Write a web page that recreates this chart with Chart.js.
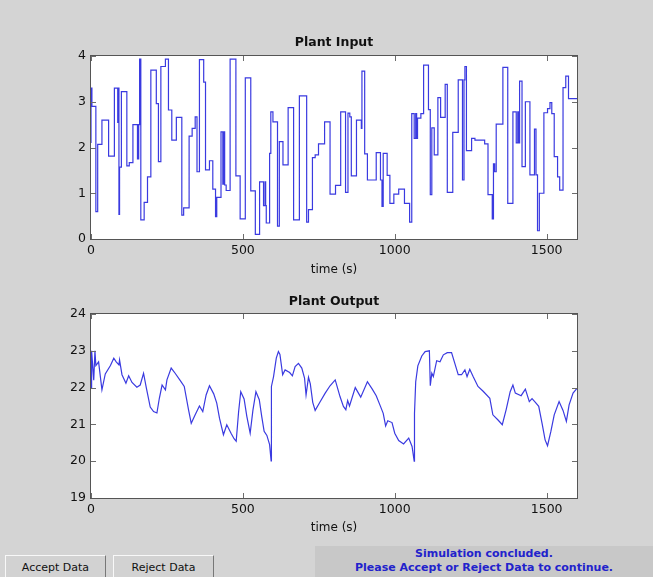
<!DOCTYPE html>
<html lang="en">
<head>
    <meta charset="UTF-8">
    <title>Plant Input / Plant Output</title>
    <script src="https://cdn.jsdelivr.net/npm/chart.js"></script>
    <style>
        body { margin: 0; background: #d4d4d4; font-family: "DejaVu Sans", sans-serif; }
        .fig { position: relative; width: 653px; height: 577px; overflow: hidden; background: #d4d4d4; }
        canvas { position: absolute; left: 0; }
        .btn {
            position: absolute; top: 555px; height: 24px; width: 101px;
            background: #d2d2d2; border-top: 1px solid #f8f8f8; border-left: 1px solid #f8f8f8;
            border-right: 1px solid #777; box-sizing: border-box;
            font-size: 11px; color: #111; text-align: center; line-height: 24px;
        }
        .status {
            position: absolute; left: 315px; top: 546px; width: 338px; height: 31px;
            background: #c8c8c8; color: #2222cc; font-weight: bold; font-size: 11px;
            text-align: center; line-height: 14px; padding-top: 1px; box-sizing: border-box;
        }
    </style>
</head>
<body>
<div class="fig">
    <canvas id="inputChart" width="653" height="285" style="top:0"></canvas>
    <canvas id="outputChart" width="653" height="255" style="top:285px"></canvas>
    <div class="btn" style="left:5px">Accept Data</div>
    <div class="btn" style="left:113px">Reject Data</div>
    <div class="status">Simulation concluded.<br>Please Accept or Reject Data to continue.</div>
</div>

<script>
    // time axis ticks (s)
    const timeTicks = [0, 500, 1000, 1500];
    const inputTicks = [0, 1, 2, 3, 4];
    const outputTicks = [19, 20, 21, 22, 23, 24];

    // plant input, held constant from each time to the next
    const inputTimes = [0, 3, 16, 22, 36, 58, 77, 88, 91, 92, 94, 100, 118, 126, 138, 153, 157, 160, 164, 175,
        186, 197, 215, 222, 230, 245, 255, 266, 281, 299, 305, 323, 333, 343, 349, 357, 371, 377, 390, 401,
        410, 414, 428, 434, 438, 440, 445, 458, 477, 491, 508, 526, 541, 555, 568, 573, 575, 577, 588, 592,
        599, 614, 620, 632, 649, 667, 686, 710, 716, 729, 738, 749, 769, 787, 805, 822, 838, 846, 852, 857,
        874, 890, 892, 901, 910, 939, 953, 958, 962, 975, 984, 997, 1013, 1032, 1049, 1056, 1064, 1069, 1072, 1075,
        1086, 1095, 1111, 1117, 1122, 1130, 1142, 1151, 1166, 1173, 1191, 1209, 1223, 1228, 1231, 1236, 1253, 1264, 1296, 1307,
        1321, 1325, 1329, 1334, 1356, 1372, 1389, 1400, 1405, 1408, 1411, 1419, 1430, 1445, 1460, 1465, 1470, 1476, 1491, 1503,
        1511, 1517, 1525, 1536, 1543, 1554, 1563, 1572, 1587, 1600];
    const inputValues = [2.1, 3.3, 2.9, 0.6, 2.07, 2.6, 1.81, 3.3, 2.55, 3.3, 0.54, 1.57, 3.22, 1.6, 1.67, 2.5, 1.75, 2.5, 3.93, 0.42,
        0.8, 1.36, 3.69, 2.96, 1.69, 3.77, 3.93, 2.82, 2.16, 2.66, 0.52, 0.68, 2.25, 2.42, 2.67, 1.47, 3.92, 3.43, 1.51, 1.71,
        1.09, 0.49, 0.91, 2.34, 1.2, 2.34, 1.18, 1.06, 3.93, 1.38, 0.44, 3.52, 1.05, 0.1, 1.25, 0.73, 1.25, 0.73, 0.35, 1.87,
        2.78, 2.56, 0.28, 2.13, 1.62, 2.87, 0.42, 3.13, 0.37, 0.64, 1.78, 1.84, 2.08, 2.56, 0.98, 1.17, 2.78, 1.02, 2.75, 2.67,
        1.38, 2.6, 2.42, 3.67, 1.86, 1.29, 1.89, 1.29, 0.71, 1.87, 1.39, 0.78, 0.98, 1.09, 0.78, 0.37, 2.74, 2.2, 2.74, 2.2,
        2.64, 2.74, 3.8, 2.83, 0.97, 2.43, 1.84, 3.09, 2.66, 3.38, 1.02, 2.33, 3.48, 1.29, 3.48, 3.77, 1.93, 2.2, 2.16, 2.08,
        0.97, 0.44, 1.64, 1.47, 2.51, 3.75, 0.78, 2.78, 2.1, 2.78, 2.1, 3.45, 1.58, 3.0, 1.4, 2.4, 1.4, 0.18, 1.0, 2.76,
        2.85, 2.98, 2.74, 1.8, 1.36, 1.07, 3.31, 3.56, 3.07, 3.07];

    // plant output
    const outputTimes = [0, 2, 9, 13, 16, 25, 36, 47, 64, 75, 83, 92, 94, 102, 115, 124, 135, 151, 162, 173,
        182, 195, 206, 217, 225, 234, 245, 250, 264, 277, 294, 307, 321, 330, 343, 357, 368, 379, 390, 404,
        414, 423, 436, 447, 461, 471, 478, 486, 493, 504, 513, 524, 533, 543, 554, 562, 570, 579, 588, 593,
        594, 601, 610, 617, 622, 631, 639, 654, 663, 672, 683, 694, 703, 708, 716, 722, 730, 738, 752, 771,
        787, 804, 820, 831, 839, 845, 851, 870, 888, 910, 926, 939, 953, 962, 970, 977, 991, 1000, 1013, 1029,
        1046, 1057, 1064, 1065, 1069, 1076, 1089, 1100, 1114, 1117, 1122, 1127, 1138, 1149, 1160, 1173, 1187, 1198, 1209, 1220,
        1231, 1238, 1247, 1258, 1274, 1291, 1313, 1323, 1340, 1354, 1367, 1380, 1389, 1397, 1416, 1430, 1443, 1452, 1463, 1474,
        1485, 1495, 1503, 1514, 1525, 1541, 1554, 1565, 1574, 1587, 1600];
    const outputValues = [22.0, 23.0, 22.2, 23.0, 22.6, 22.7, 21.94, 22.37, 22.6, 22.8, 22.7, 22.62, 22.75, 22.35, 22.12, 22.32, 22.14, 22.01, 22.07, 22.39,
        22.0, 21.47, 21.35, 21.31, 21.71, 22.07, 21.94, 22.21, 22.53, 22.39, 22.19, 22.03, 21.4, 21.03, 21.26, 21.5, 21.35, 21.8, 22.05, 21.83,
        21.58, 21.17, 20.72, 20.99, 20.76, 20.61, 20.54, 21.35, 21.89, 21.69, 21.22, 20.76, 21.38, 21.89, 21.67, 21.22, 20.81, 20.7, 20.45, 20.01,
        22.03, 22.3, 22.8, 22.98, 22.9, 22.35, 22.48, 22.41, 22.32, 22.57, 22.66, 22.53, 22.26, 21.8, 22.28, 22.1, 21.6, 21.38, 21.58, 21.85,
        22.05, 22.21, 21.75, 21.49, 21.4, 21.65, 21.5, 22.0, 21.74, 22.16, 21.96, 21.78, 21.49, 21.3, 20.96, 21.1, 21.05, 20.76, 20.56, 20.47,
        20.63, 20.4, 20.0, 21.3, 22.16, 22.59, 22.86, 22.98, 23.0, 22.05, 22.39, 22.3, 22.73, 22.7, 22.89, 22.95, 22.95, 22.65, 22.35, 22.35,
        22.48, 22.3, 22.5, 22.3, 22.03, 21.9, 21.71, 21.26, 21.12, 20.99, 21.41, 21.89, 22.07, 21.85, 21.78, 21.96, 21.62, 21.7, 21.6, 21.49,
        21.03, 20.58, 20.42, 20.81, 21.26, 21.62, 21.38, 21.08, 21.53, 21.85, 21.98];

    const FONT = "'DejaVu Sans', sans-serif";
    const LINE = '#3a3ae0';

    // white plot area, dark box and short inward ticks on all four sides
    const matlabAxes = {
        id: 'matlabAxes',
        beforeDraw(chart) {
            const a = chart.chartArea;
            chart.ctx.save();
            chart.ctx.fillStyle = '#ffffff';
            chart.ctx.fillRect(a.left, a.top, a.right - a.left, a.bottom - a.top);
            chart.ctx.restore();
        },
        afterDraw(chart) {
            const {ctx, chartArea: a, scales: {x, y}} = chart;
            ctx.save();
            ctx.strokeStyle = '#6c6c6c';
            ctx.lineWidth = 1;
            ctx.beginPath();
            x.ticks.forEach(t => {
                const px = Math.round(x.getPixelForValue(t.value)) + 0.5;
                ctx.moveTo(px, a.bottom); ctx.lineTo(px, a.bottom - 5);
                ctx.moveTo(px, a.top); ctx.lineTo(px, a.top + 5);
            });
            y.ticks.forEach(t => {
                const py = Math.round(y.getPixelForValue(t.value)) + 0.5;
                ctx.moveTo(a.left, py); ctx.lineTo(a.left + 5, py);
                ctx.moveTo(a.right, py); ctx.lineTo(a.right - 5, py);
            });
            ctx.stroke();
            ctx.strokeStyle = '#555';
            ctx.strokeRect(a.left - 0.5, a.top - 0.5, a.right - a.left + 1, a.bottom - a.top + 1);
            ctx.restore();
        }
    };

    function makeChart(id, title, times, values, yTicks, stepped, pad) {
        const points = times.map((t, i) => ({x: t, y: values[i]}));
        return new Chart(document.getElementById(id), {
            type: 'line',
            data: {
                datasets: [{
                    data: points,
                    borderColor: LINE,
                    borderWidth: 1.2,
                    pointRadius: 0,
                    stepped: stepped,
                    tension: 0,
                    fill: false
                }]
            },
            options: {
                responsive: false,
                animation: false,
                devicePixelRatio: 1,
                layout: { padding: { left: 0, right: 76, top: 0, bottom: 0 } },
                plugins: {
                    legend: { display: false },
                    tooltip: { enabled: false },
                    title: {
                        display: true,
                        fullSize: false,   // centre over the plot, not the canvas
                        text: title,
                        color: '#111',
                        font: { family: FONT, size: 12.5, weight: 'bold', lineHeight: 1.2 },
                        padding: { top: pad.titleTop, bottom: pad.titleBottom }
                    }
                },
                scales: {
                    x: {
                        type: 'linear',
                        min: 0,
                        max: 1600,
                        grid: { display: false, drawTicks: false },
                        border: { display: false },
                        afterBuildTicks: s => { s.ticks = timeTicks.map(v => ({value: v})); },
                        afterFit: s => { s.height = pad.xHeight; },
                        ticks: {
                            color: '#111', padding: 4, maxRotation: 0,
                            font: { family: FONT, size: 12.5 },
                            callback: v => String(v)
                        },
                        title: {
                            display: true,
                            text: 'time (s)',
                            color: '#111',
                            font: { family: FONT, size: 12, lineHeight: 1.2 },
                            padding: { top: 0, bottom: pad.xTitleBottom }
                        }
                    },
                    y: {
                        type: 'linear',
                        min: yTicks[0],
                        max: yTicks[yTicks.length - 1],
                        grid: { display: false, drawTicks: false },
                        border: { display: false },
                        afterBuildTicks: s => { s.ticks = yTicks.map(v => ({value: v})); },
                        afterFit: s => { s.width = 91; },
                        ticks: {
                            color: '#111', padding: 5,
                            font: { family: FONT, size: 12.5 },
                            callback: v => String(v)
                        }
                    }
                }
            },
            plugins: [matlabAxes]
        });
    }

    makeChart('inputChart', 'Plant Input', inputTimes, inputValues, inputTicks, 'after',
        { titleTop: 35.5, titleBottom: 5.5, xHeight: 46, xTitleBottom: 8 });
    makeChart('outputChart', 'Plant Output', outputTimes, outputValues, outputTicks, false,
        { titleTop: 9.5, titleBottom: 4.5, xHeight: 42, xTitleBottom: 5 });
</script>
</body>
</html>
